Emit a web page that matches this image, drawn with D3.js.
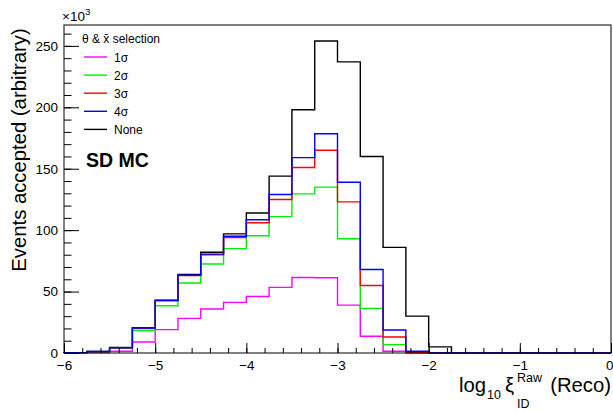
<!DOCTYPE html>
<html><head><meta charset="utf-8">
<script src="https://cdn.jsdelivr.net/npm/d3@7"></script>
<style>
body{margin:0;background:#fff;}
text{font-family:"Liberation Sans",Arial,Helvetica,sans-serif;}
</style></head>
<body><svg id="c" width="613" height="412"></svg>
<script>
// bin lower edges (width 0.25)
const binLow = [-6,-5.75,-5.5,-5.25,-5,-4.75,-4.5,-4.25,-4,-3.75,-3.5,-3.25,-3,-2.75,-2.5,-2.25,-2,-1.75,-1.5,-1.25,-1,-0.75,-0.5,-0.25];
const binWidth = 0.25;
// values in units of 10^3
const none  = [0.3,1.2,4.5,20.5,43,64,82,97,114,144,198,254,237,160,86,30,5,0,0,0,0,0,0,0];
const sig4  = [0.3,1.2,4.3,20.3,42.8,63.4,80.5,95,108.5,129,159,178.5,139,68,18.7,1.4,0,0,0,0,0,0,0,0];
const sig3  = [0.3,1.1,4.2,20,42.5,63,80,94,106,125,151,165,123,55,13,0.6,0,0,0,0,0,0,0,0];
const sig2  = [0.2,1,3.8,18.2,38.5,57,72.5,85,95.5,111,129.5,135,93,36.3,6.8,0.3,0,0,0,0,0,0,0,0];
const sig1  = [0.1,0.4,1.4,9,19,28.2,35.8,41.2,46,53.4,61.5,61.2,39,13.6,1.4,0,0,0,0,0,0,0,0,0];
const seriesNames = ["1σ","2σ","3σ","4σ","None"];
const seriesColors = ["#ff00ff","#00ee00","#ff0000","#0000ff","#000000"];
const xTicks = [-6,-5,-4,-3,-2,-1,0];
const yTicks = [0,50,100,150,200,250];

const svg = d3.select("#c");
const L=64, R=611, T=25, B=353;
const x = d3.scaleLinear().domain([-6,0]).range([L,R]);
const y = d3.scaleLinear().domain([0,267]).range([B,T]);

// histograms
const allSeries = [none, sig1, sig2, sig3, sig4];
const allColors = ["#000000","#ff00ff","#00ee00","#ff0000","#0000ff"];
const line = d3.line().x(d=>x(d[0])).y(d=>y(d[1]));
allSeries.forEach((vals,i)=>{
  const pts=[[binLow[0],0]];
  vals.forEach((v,j)=>{pts.push([binLow[j],v]);pts.push([binLow[j]+binWidth,v]);});
  pts.push([0,0]);
  svg.append("path").attr("d",line(pts)).attr("fill","none")
    .attr("stroke",allColors[i]).attr("stroke-width",1.4);
});

// frame
svg.append("rect").attr("x",L).attr("y",T).attr("width",R-L).attr("height",B-T)
  .attr("fill","none").attr("stroke","#000").attr("stroke-width",1);

// axes
const fmt = d3.format("");
const xAx = svg.append("g").attr("transform",`translate(0,${B})`)
  .call(d3.axisBottom(x).tickValues(xTicks).tickSize(-10).tickPadding(7).tickFormat(d=>fmt(d)));
const xMin = svg.append("g").attr("transform",`translate(0,${B})`)
  .call(d3.axisBottom(x).tickValues(d3.range(-60,1,2).map(v=>v/10)).tickSize(-5).tickFormat(""));
const yAx = svg.append("g").attr("transform",`translate(${L},0)`)
  .call(d3.axisLeft(y).tickValues(yTicks).tickSize(-15).tickPadding(6));
const yMin = svg.append("g").attr("transform",`translate(${L},0)`)
  .call(d3.axisLeft(y).tickValues(d3.range(0,261,10)).tickSize(-7.5).tickFormat(""));
[xAx,xMin,yAx,yMin].forEach(g=>{g.select(".domain").remove();g.selectAll("line").attr("stroke","#000");});
xAx.selectAll("text").attr("font-size",13.5).attr("fill","#000").attr("font-family","Liberation Sans, Arial, sans-serif");
xAx.selectAll(".tick").filter(d=>d===0).select("text").attr("text-anchor","end").attr("x",2);
yAx.selectAll("text").attr("font-size",13.5).attr("fill","#000").attr("font-family","Liberation Sans, Arial, sans-serif");

// x10^3
const ex = svg.append("text").attr("x",62).attr("y",21).attr("font-size",13.5);
ex.append("tspan").text("×10");
ex.append("tspan").attr("dy",-6).attr("font-size",9.5).text("3");

// y title
svg.append("text").attr("transform","translate(26,150) rotate(-90)")
  .attr("text-anchor","middle").attr("font-size",20.3).text("Events accepted (arbitrary)");

// x title
const xt = svg.append("g");
xt.append("text").attr("x",459).attr("y",392).attr("font-size",20.3).text("log");
xt.append("text").attr("x",487).attr("y",399).attr("font-size",12.5).text("10");
xt.append("text").attr("x",505).attr("y",392).attr("font-size",20.3).text("ξ");
xt.append("text").attr("x",517).attr("y",382).attr("font-size",12.5).text("Raw");
xt.append("text").attr("x",517).attr("y",408).attr("font-size",12.5).text("ID");
xt.append("text").attr("x",611).attr("y",392).attr("text-anchor","end").attr("font-size",20.3).text("(Reco)");

// legend
const lg = svg.append("g");
lg.append("text").attr("x",82).attr("y",43).attr("font-size",12).text("θ & x̄ selection");
seriesNames.forEach((n,i)=>{
  const yy = 57 + i*18.1;
  lg.append("line").attr("x1",84).attr("x2",107).attr("y1",yy).attr("y2",yy)
    .attr("stroke",seriesColors[i]).attr("stroke-width",1.4);
  lg.append("text").attr("x",114).attr("y",yy+4.5).attr("font-size",12).text(n);
});

// SD MC
svg.append("text").attr("x",86).attr("y",167).attr("font-size",19.5).attr("font-weight","bold").text("SD MC");
</script></body></html>
